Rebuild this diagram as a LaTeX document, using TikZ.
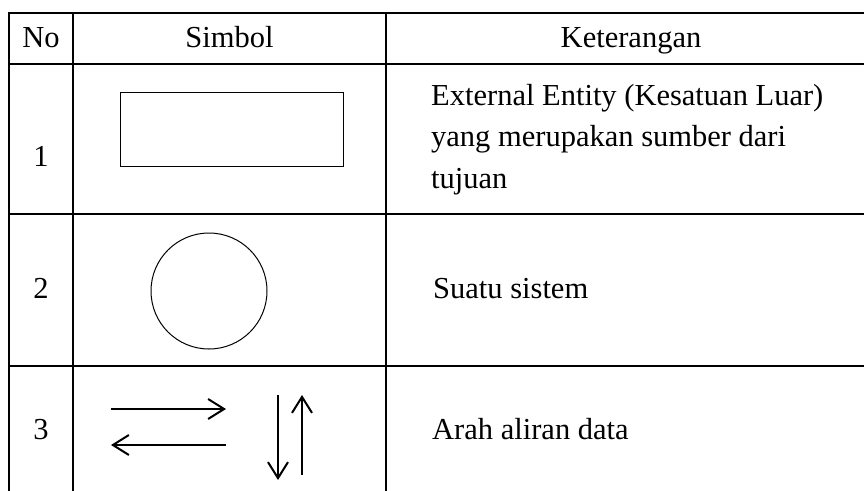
\documentclass[tikz,border=0pt]{standalone}
\usepackage{fontspec}
\setmainfont{Liberation Serif}
\usetikzlibrary{arrows.meta}
\begin{document}
\begin{tikzpicture}[x=1pt,y=-1pt,
  grid/.style={line width=2pt,line cap=rect},
  symbox/.style={draw,line width=1pt,inner sep=0pt},
  flow/.style={line width=2pt,-{Straight Barb[length=16pt,width=20pt,line width=2pt]}},
  txt/.style={inner sep=0pt,font=\fontsize{30.5}{41.5}\selectfont},
]
\useasboundingbox (0,0) rectangle (864,490);
% grid
\draw[grid] (8.5,490) -- (8.5,13) -- (864,13);
\draw[grid] (8.5,64) -- (864,64);
\draw[grid] (8.5,214) -- (864,214);
\draw[grid] (8.5,366) -- (864,366);
\draw[grid] (73,13) -- (73,490);
\draw[grid] (386,13) -- (386,490);
% header
\node[txt,anchor=base] (hno) at (41,47) {No};
\node[txt,anchor=base] (hsym) at (229.5,47) {Simbol};
\node[txt,anchor=base] (hket) at (631,47) {Keterangan};
% row 1
\node[txt,anchor=base] (n1) at (41,166) {1};
\node[symbox,rectangle,minimum width=223pt,minimum height=74pt] (ent) at (231.5,129) {};
\node[txt,anchor=base west] (k1a) at (431,105) {External Entity (Kesatuan Luar)};
\node[txt,anchor=base west] (k1b) at (431,146.5) {yang merupakan sumber dari};
\node[txt,anchor=base west] (k1c) at (431,188) {tujuan};
% row 2
\node[txt,anchor=base] (n2) at (41,298) {2};
\node[symbox,circle,minimum size=116pt] (sys) at (209,291) {};
\node[txt,anchor=base west] (k2) at (433,298) {Suatu sistem};
% row 3
\node[txt,anchor=base] (n3) at (41,439) {3};
\coordinate (r1) at (111,409); \coordinate (r2) at (226,409);
\coordinate (l1) at (226,445); \coordinate (l2) at (111,445);
\coordinate (d1) at (278,395); \coordinate (d2) at (278,480);
\coordinate (u1) at (302,475); \coordinate (u2) at (302,395);
\draw[flow] (r1) -- (r2);
\draw[flow] (l1) -- (l2);
\draw[flow] (d1) -- (d2);
\draw[flow] (u1) -- (u2);
\node[txt,anchor=base west] (k3) at (432,439) {Arah aliran data};
\end{tikzpicture}
\end{document}
